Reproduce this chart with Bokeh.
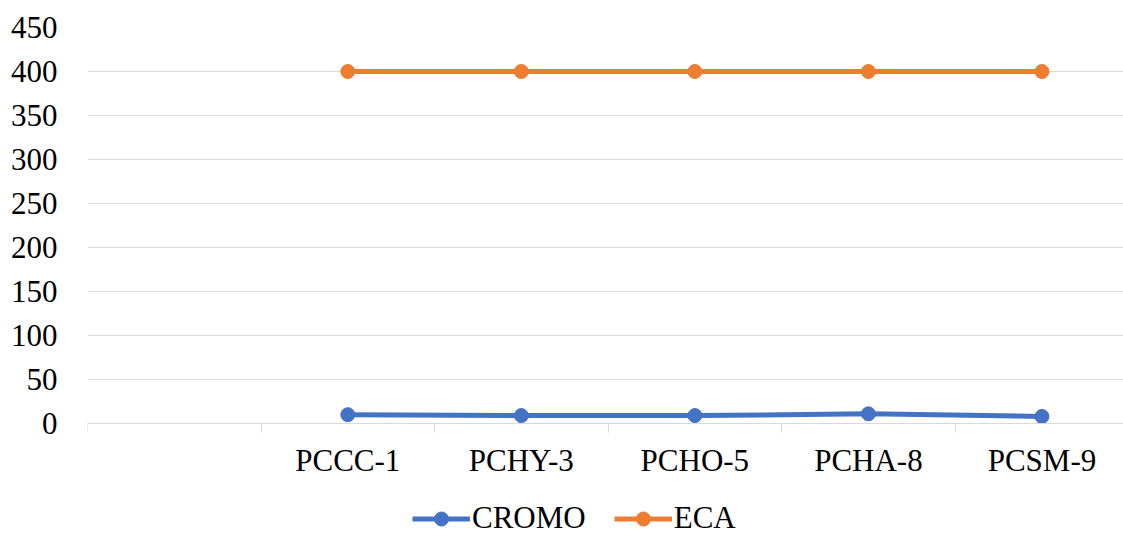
from bokeh.plotting import figure
from bokeh.models import FixedTicker, Legend, LegendItem, ColumnDataSource, Range1d
from bokeh.embed import file_html
from bokeh.resources import INLINE

categories = ["", "PCCC-1", "PCHY-3", "PCHO-5", "PCHA-8", "PCSM-9"]
series_categories = ["PCCC-1", "PCHY-3", "PCHO-5", "PCHA-8", "PCSM-9"]
cromo = [10, 9, 9, 11, 8]
eca = [400, 400, 400, 400, 400]
y_ticks = [0, 50, 100, 150, 200, 250, 300, 350, 400, 450]

FONT = "Liberation Serif"
BLUE = "#4472C4"
ORANGE = "#ED7D31"
GRID = "#d9d9d9"
FS = "31px"

xpos = [categories.index(c) + 0.5 for c in series_categories]

# frame extends to the bottom of the canvas; the x axis sits at y=0
Y_MAX = 450
Y_MIN = -Y_MAX * 111 / 396

p = figure(width=1123, height=534, output_backend="svg", toolbar_location=None,
           x_range=Range1d(0, 5.97), y_range=Range1d(Y_MIN, Y_MAX),
           min_border_left=87, min_border_right=0, min_border_top=27, min_border_bottom=0)
p.outline_line_color = None
p.background_fill_color = "white"

src = ColumnDataSource(dict(x=xpos, cromo=cromo, eca=eca))
l1 = p.line("x", "cromo", source=src, line_color=BLUE, line_width=5)
c1 = p.scatter("x", "cromo", source=src, size=14, fill_color=BLUE, line_color=BLUE)
l2 = p.line("x", "eca", source=src, line_color=ORANGE, line_width=5)
c2 = p.scatter("x", "eca", source=src, size=14, fill_color=ORANGE, line_color=ORANGE)

# x axis
p.xaxis.fixed_location = 0
p.xaxis.ticker = FixedTicker(ticks=[i + 0.5 for i in range(len(categories))],
                             minor_ticks=list(range(len(categories) + 1)))
p.xaxis.major_label_overrides = {i + 0.5: c for i, c in enumerate(categories)}
p.xaxis.major_tick_line_color = None
p.xaxis.major_tick_out = 0
p.xaxis.major_tick_in = 0
p.xaxis.minor_tick_in = 0
p.xaxis.minor_tick_out = 9
p.xaxis.minor_tick_line_color = GRID
p.xaxis.axis_line_color = GRID
p.xaxis.major_label_text_font = FONT
p.xaxis.major_label_text_font_size = FS
p.xaxis.major_label_text_color = "black"
p.xaxis.major_label_standoff = 10
p.xgrid.grid_line_color = None

# y axis
p.yaxis.ticker = FixedTicker(ticks=y_ticks)
p.yaxis.axis_line_color = None
p.yaxis.major_tick_line_color = None
p.yaxis.major_tick_out = 0
p.yaxis.major_tick_in = 0
p.yaxis.minor_tick_line_color = None
p.yaxis.major_label_text_font = FONT
p.yaxis.major_label_text_font_size = FS
p.yaxis.major_label_text_color = "black"
p.yaxis.major_label_standoff = 30
p.ygrid.grid_line_color = GRID
p.ygrid.grid_line_width = 1

legend = Legend(items=[LegendItem(label="CROMO", renderers=[l1, c1]),
                       LegendItem(label="ECA", renderers=[l2, c2])],
                orientation="horizontal", location=(325, -2),
                label_text_font=FONT, label_text_font_size=FS, label_height=28,
                label_text_color="black",
                glyph_width=58, glyph_height=35, label_standoff=2, spacing=28,
                border_line_color=None, background_fill_alpha=0, margin=0, padding=0)
p.add_layout(legend, "center")

open("out.html", "w").write(file_html(p, INLINE))
